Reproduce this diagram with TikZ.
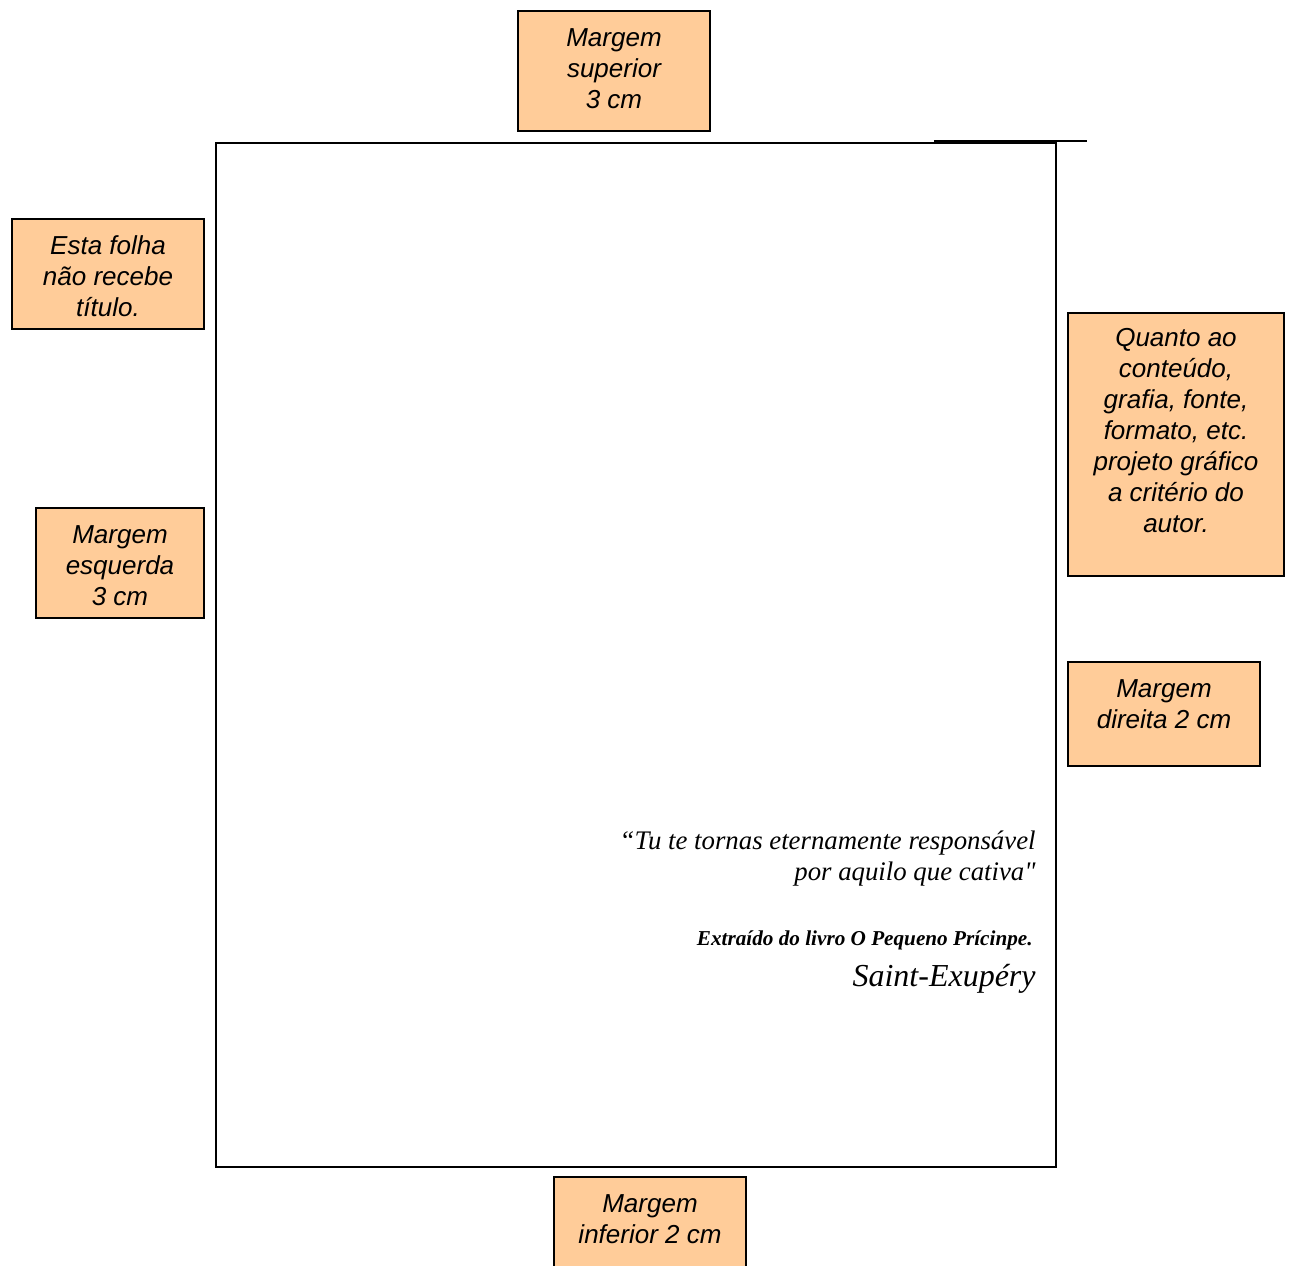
\documentclass[tikz,border=0pt]{standalone}
\usepackage{fontspec}
\setmainfont{Liberation Serif}
\newfontfamily\arialfont{Liberation Sans}
\usepackage{tikz}

\definecolor{pessego}{RGB}{255,204,153}
\tikzset{
  caixa/.style={draw=black, line width=1pt, fill=pessego},
  rotulo/.style={font=\arialfont\itshape\fontsize{13}{15.5}\selectfont, align=center, inner sep=0pt, anchor=base},
  citacao/.style={font=\itshape\fontsize{13.4}{15.5}\selectfont, align=right, inner sep=0pt, anchor=base east}
}

\begin{document}
\begin{tikzpicture}[x=0.5pt,y=0.5pt]
\useasboundingbox (0,0) rectangle (1291,-1265);
% folha
\draw [black, line width=1pt] (216,-143) rectangle (1056,-1167);
\draw [black, line width=1pt] (934,-141) -- (1087,-141);
% caixas
\draw [caixa] (518,-11) rectangle (710,-131);
\node [rotulo] (superior) at (614,-108) {Margem\\superior\\3 cm};
\draw [caixa] (12,-219) rectangle (204,-329);
\node [rotulo] (titulo) at (108,-316) {Esta folha\\não recebe\\título.};
\draw [caixa] (36,-508) rectangle (204,-618);
\node [rotulo] (esquerda) at (120,-605) {Margem\\esquerda\\3 cm};
\draw [caixa] (1068,-313) rectangle (1284,-576);
\node [rotulo] (conteudo) at (1176,-532) {Quanto ao\\conteúdo,\\grafia, fonte,\\formato, etc.\\projeto gráfico\\a critério do\\autor.};
\draw [caixa] (1068,-662) rectangle (1260,-766);
\node [rotulo] (direita) at (1164,-728) {Margem\\direita 2 cm};
\begin{scope}
\clip (0,0) rectangle (1291,-1265);
\draw [caixa] (554,-1177) rectangle (746,-1280);
\end{scope}
\node [rotulo] (inferior) at (650,-1243) {Margem\\inferior 2 cm};
% epigrafe
\node [citacao] (frase) at (1036,-880) {“Tu te tornas eternamente responsável\\por aquilo que cativa\textquotedbl};
\node [citacao, font=\bfseries\itshape\fontsize{10.6}{12}\selectfont] (livro) at (1033,-945) {Extraído do livro O Pequeno Prícinpe.};
\node [citacao, font=\itshape\fontsize{16}{19}\selectfont] (autor) at (1036,-986) {Saint-Exupéry};
\end{tikzpicture}
\end{document}
